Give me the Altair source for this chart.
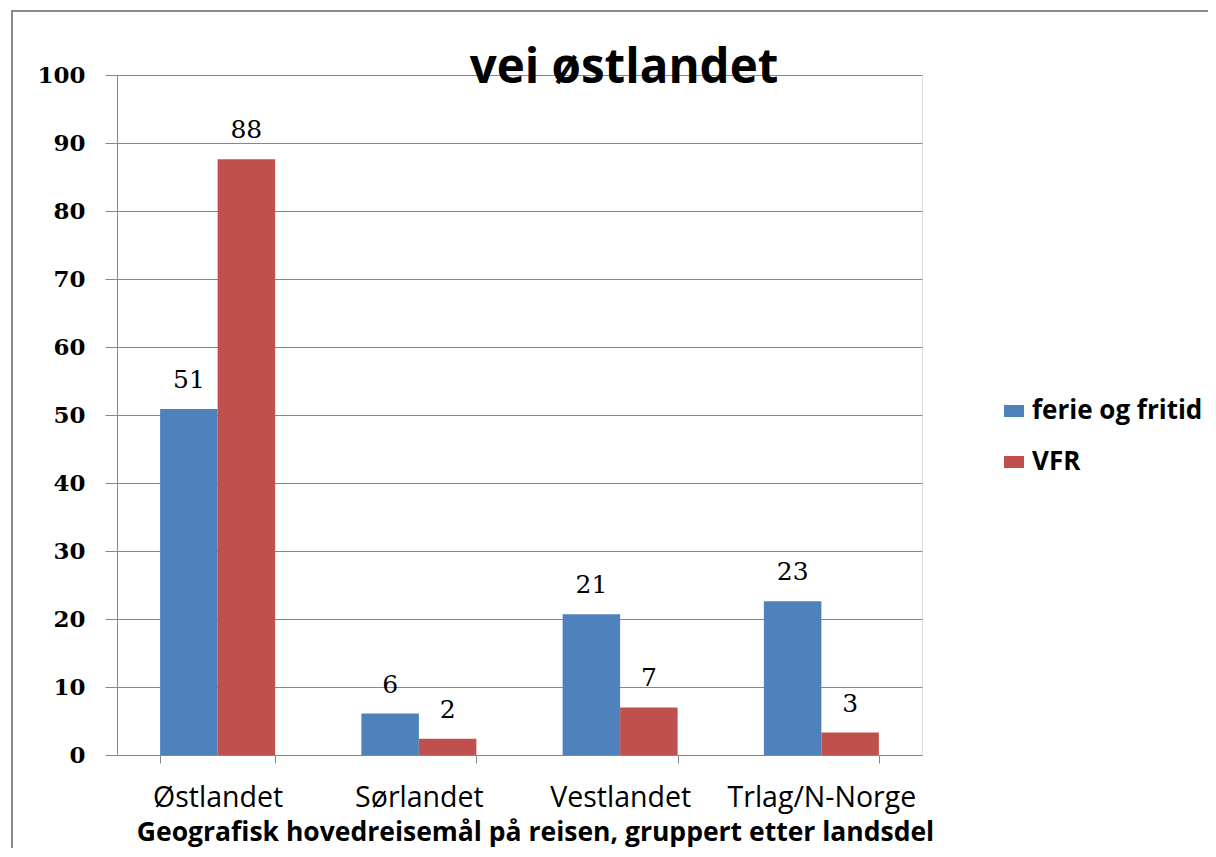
import altair as alt
import pandas as pd

categories = ["Østlandet", "Sørlandet", "Vestlandet", "Trlag/N-Norge"]
series_names = ["ferie og fritid", "VFR"]
ferie = [50.9, 6.1, 20.7, 22.6]
vfr = [87.6, 2.4, 7.0, 3.3]
y_ticks = [0, 10, 20, 30, 40, 50, 60, 70, 80, 90, 100]
colors = ["#4F81BD", "#C0504D"]
chart_title = "vei østlandet"
x_title = "Geografisk hovedreisemål på reisen, gruppert etter landsdel"

rows = []
for c, a, b in zip(categories, ferie, vfr):
    rows.append({"cat": c, "series": series_names[0], "value": a})
    rows.append({"cat": c, "series": series_names[1], "value": b})
df = pd.DataFrame(rows)

GRID = "#878787"
SANS = "Open Sans"
SERIF = "DejaVu Serif"

x_enc = alt.X(
    "cat:N",
    sort=categories,
    scale=alt.Scale(paddingInner=0.4286, paddingOuter=0.2143),
    axis=alt.Axis(
        title=x_title,
        titleFont=SANS,
        titleFontSize=26.5,
        titleFontWeight="bold",
        titleColor="black",
        titleX=418,
        titleY=85,
        titleBaseline="alphabetic",
        titleAlign="center",
        titleLimit=1000,
        labelAngle=0,
        labelFont=SANS,
        labelFontSize=28.5,
        labelColor="black",
        labelPadding=20,
        labelLimit=400,
        tickBand="extent",
        tickSize=8,
        tickColor=GRID,
        domainColor=GRID,
        grid=False,
    ),
)
xoff = alt.XOffset("series:N", sort=series_names, scale=alt.Scale(paddingInner=0, paddingOuter=0))
y_enc = alt.Y(
    "value:Q",
    scale=alt.Scale(domain=[0, 100], nice=False),
    axis=alt.Axis(
        title=None,
        values=y_ticks,
        labelFont=SERIF,
        labelFontSize=23,
        labelFontWeight="bold",
        labelColor="black",
        labelPadding=20,
        tickSize=12,
        tickColor=GRID,
        domainColor=GRID,
        gridColor=GRID,
        gridOpacity=1,
    ),
)

bars = alt.Chart(df).mark_bar().encode(
    x=x_enc,
    xOffset=xoff,
    y=y_enc,
    color=alt.Color(
        "series:N",
        sort=series_names,
        scale=alt.Scale(domain=series_names, range=colors),
        legend=alt.Legend(
            title=None,
            orient="none",
            legendX=884,
            legendY=323,
            padding=0,
            labelFont=SANS,
            labelFontSize=26,
            labelFontWeight="bold",
            labelColor="black",
            labelOffset=5,
            labelLimit=400,
            rowPadding=25,
            symbolType="M-1,-0.6H1V0.6H-1Z",
            symbolSize=400,
            symbolStrokeWidth=0,
        ),
    ),
)

labels = alt.Chart(df).mark_text(
    font=SERIF, fontSize=25, color="black", baseline="alphabetic", dy=-21
).encode(
    x=alt.X("cat:N", sort=categories),
    xOffset=alt.XOffset("series:N", sort=series_names),
    y=alt.Y("value:Q"),
    text=alt.Text("value:Q", format=".0f"),
)

one = pd.DataFrame({"k": [0]})

frame = alt.Chart(one).mark_rect(
    fillOpacity=0, stroke="#8a8a8a", strokeWidth=2
).encode(
    x=alt.value(-105), y=alt.value(-64), x2=alt.value(1300), y2=alt.value(1000)
)

title_text = alt.Chart(one).mark_text(
    font=SANS, fontSize=47.5, fontWeight="bold", color="black",
    align="center", baseline="alphabetic"
).encode(
    x=alt.value(507), y=alt.value(8), text=alt.value(chart_title)
)

chart = alt.layer(frame, bars, labels, title_text).properties(
    width=805,
    height=680,
    padding={"left": 109, "top": 67, "right": 286, "bottom": 93},
    autosize=alt.AutoSizeParams(type="none"),
).configure_view(stroke=None).configure(background="white")

chart.save("out.html", embed_options={"renderer": "svg", "actions": False})
